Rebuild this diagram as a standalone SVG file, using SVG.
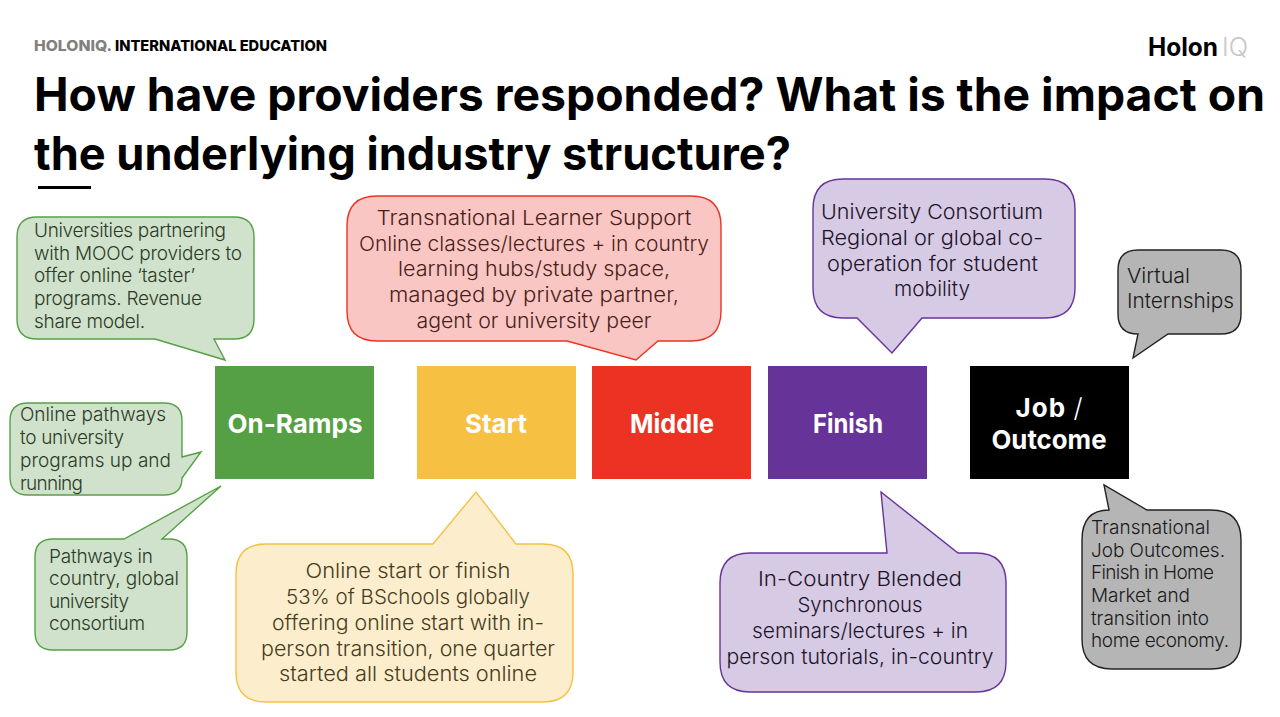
<svg xmlns="http://www.w3.org/2000/svg" width="1280" height="717" viewBox="0 0 1280 717">
<style>
text{font-family:"Inter","Noto Sans",sans-serif}
.t{font-size:20.5px;font-weight:300}
.s{font-size:19px;font-weight:300}
.m{text-anchor:middle}
.h{font-size:46px;font-weight:700;fill:#000}
.b{font-size:26px;font-weight:700;fill:#fff;text-anchor:middle}
.c{stroke-width:1.4}
.g{fill:#d0e2cb;stroke:#55a045}.y{fill:#fcedcd;stroke:#f6c143}.r{fill:#f9c6c3;stroke:#ec3323}.p{fill:#d6cae4;stroke:#663399}.k{fill:#b5b5b5;stroke:#222}
.tg{fill:#2c3a28}.ty{fill:#463c20}.tr{fill:#4a1e1a}.tp{fill:#1d1428}.tk{fill:#1a1a1a}
</style>
<rect width="1280" height="717" fill="#fff"/>
<text x="34" y="51" font-size="15" font-weight="800" fill="#808080" textLength="78" lengthAdjust="spacingAndGlyphs">HOLONIQ.</text>
<text x="115" y="51" font-size="15" font-weight="800" fill="#000" textLength="212" lengthAdjust="spacingAndGlyphs">INTERNATIONAL EDUCATION</text>
<text x="1148" y="56" font-size="25" font-weight="700" fill="#000" textLength="70" lengthAdjust="spacingAndGlyphs">Holon</text>
<text x="1222" y="56" font-size="25" font-weight="300" fill="#c8c8c8" textLength="26" lengthAdjust="spacingAndGlyphs">IQ</text>
<text class="h" x="34" y="111" textLength="1231" lengthAdjust="spacingAndGlyphs">How have providers responded? What is the impact on</text>
<text class="h" x="34" y="170" textLength="757" lengthAdjust="spacingAndGlyphs">the underlying industry structure?</text>
<rect x="38" y="186" width="53" height="3" fill="#000"/>
<!-- stage boxes -->
<g id="on-ramps"><rect x="215" y="366" width="159" height="113" fill="#55a045"/><text class="b" x="295" y="433" textLength="135" lengthAdjust="spacingAndGlyphs">On-Ramps</text></g>
<g id="start"><rect x="417" y="366" width="159" height="113" fill="#f6c143"/><text class="b" x="496" y="433" textLength="62" lengthAdjust="spacingAndGlyphs">Start</text></g>
<g id="middle"><rect x="592" y="366" width="159" height="113" fill="#ec3323"/><text class="b" x="672" y="433" textLength="84" lengthAdjust="spacingAndGlyphs">Middle</text></g>
<g id="finish"><rect x="768" y="366" width="159" height="113" fill="#663399"/><text class="b" x="848" y="433" textLength="70" lengthAdjust="spacingAndGlyphs">Finish</text></g>
<g id="job-outcome"><rect x="970" y="366" width="159" height="113" fill="#000"/><text class="b" x="1049" y="417" textLength="67">Job <tspan font-weight="300">/</tspan></text><text class="b" x="1049" y="449" textLength="115" lengthAdjust="spacingAndGlyphs">Outcome</text></g>
<!-- callouts -->
<g id="c-mooc"><path class="c g" d="M37 217H234Q254 217 254 237V319Q254 339 234 339H214L225 360L155 339H37Q17 339 17 319V237Q17 217 37 217Z"/>
<g class="s tg"><text x="34" y="237" textLength="192">Universities partnering</text><text x="34" y="260" textLength="208">with MOOC providers to</text><text x="34" y="282" textLength="161">offer online ‘taster’</text><text x="34" y="305" textLength="168">programs. Revenue</text><text x="34" y="328" textLength="111">share model.</text></g></g>
<g id="c-pathways"><path class="c g" d="M28 403H164Q182 403 182 421V457L201 452L182 478Q182 495 164 495H28Q10 495 10 477V421Q10 403 28 403Z"/>
<g class="s tg"><text x="20" y="421" textLength="146">Online pathways</text><text x="20" y="444" textLength="104">to university</text><text x="20" y="467" textLength="151">programs up and</text><text x="20" y="490" textLength="63">running</text></g></g>
<g id="c-country"><path class="c g" d="M53 539H124L221 486L162 539H169Q187 539 187 557V632Q187 650 169 650H53Q35 650 35 632V557Q35 539 53 539Z"/>
<g class="s tg"><text x="49" y="563" textLength="104">Pathways in</text><text x="49" y="585" textLength="130">country, global</text><text x="49" y="608" textLength="80">university</text><text x="49" y="630" textLength="96">consortium</text></g></g>
<g id="c-online"><path class="c y" d="M266 544H433L476 492L516 544H543Q573 544 573 574V672Q573 702 543 702H266Q236 702 236 672V574Q236 544 266 544Z"/>
<g class="t ty m"><text x="408" y="578" textLength="205" lengthAdjust="spacingAndGlyphs">Online start or finish</text><text x="408" y="604" textLength="244" lengthAdjust="spacingAndGlyphs">53% of BSchools globally</text><text x="408" y="630" textLength="272" lengthAdjust="spacingAndGlyphs">offering online start with in-</text><text x="408" y="656" textLength="294" lengthAdjust="spacingAndGlyphs">person transition, one quarter</text><text x="408" y="681" textLength="258" lengthAdjust="spacingAndGlyphs">started all students online</text></g></g>
<g id="c-support"><path class="c r" d="M377 196H691Q721 196 721 226V311Q721 341 691 341H658L636 360L567 341H377Q347 341 347 311V226Q347 196 377 196Z"/>
<g class="t tr m"><text x="534" y="225" textLength="315" lengthAdjust="spacingAndGlyphs">Transnational Learner Support</text><text x="534" y="251" textLength="350" lengthAdjust="spacingAndGlyphs">Online classes/lectures + in country</text><text x="534" y="276" textLength="272" lengthAdjust="spacingAndGlyphs">learning hubs/study space,</text><text x="534" y="302" textLength="290" lengthAdjust="spacingAndGlyphs">managed by private partner,</text><text x="534" y="328" textLength="235" lengthAdjust="spacingAndGlyphs">agent or university peer</text></g></g>
<g id="c-consortium"><path class="c p" d="M843 179H1045Q1075 179 1075 209V288Q1075 318 1045 318H922L892 353L857 318H843Q813 318 813 288V209Q813 179 843 179Z"/>
<g class="t tp"><text x="821" y="219" textLength="222" lengthAdjust="spacingAndGlyphs">University Consortium</text><text x="821" y="245" textLength="222" lengthAdjust="spacingAndGlyphs">Regional or global co-</text><text x="827" y="271" textLength="211" lengthAdjust="spacingAndGlyphs">operation for student</text><text x="894" y="296" textLength="76" lengthAdjust="spacingAndGlyphs">mobility</text></g></g>
<g id="c-blended"><path class="c p" d="M750 553H887L881 492L958 553H976Q1006 553 1006 583V662Q1006 692 976 692H750Q720 692 720 662V583Q720 553 750 553Z"/>
<g class="t tp m"><text x="860" y="586" textLength="204" lengthAdjust="spacingAndGlyphs">In-Country Blended</text><text x="860" y="612" textLength="125" lengthAdjust="spacingAndGlyphs">Synchronous</text><text x="860" y="638" textLength="216" lengthAdjust="spacingAndGlyphs">seminars/lectures + in</text><text x="860" y="664" textLength="267" lengthAdjust="spacingAndGlyphs">person tutorials, in-country</text></g></g>
<g id="c-virtual"><path class="c k" d="M1138 250H1221Q1241 250 1241 270V314Q1241 334 1221 334H1168L1133 358L1138 334Q1118 334 1118 314V270Q1118 250 1138 250Z"/>
<g class="t tk"><text x="1127" y="283" textLength="63" lengthAdjust="spacingAndGlyphs">Virtual</text><text x="1127" y="308" textLength="107" lengthAdjust="spacingAndGlyphs">Internships</text></g></g>
<g id="c-outcomes"><path class="c k" d="M1109 510L1104 485L1147 510H1211Q1241 510 1241 540V639Q1241 669 1211 669H1112Q1082 669 1082 639V540Q1082 510 1109 510Z"/>
<g class="s tk"><text x="1091" y="534" textLength="119">Transnational</text><text x="1091" y="557" textLength="134">Job Outcomes.</text><text x="1091" y="579" textLength="123">Finish in Home</text><text x="1091" y="602" textLength="99">Market and</text><text x="1091" y="625" textLength="118">transition into</text><text x="1091" y="647" textLength="138">home economy.</text></g></g>
</svg>
